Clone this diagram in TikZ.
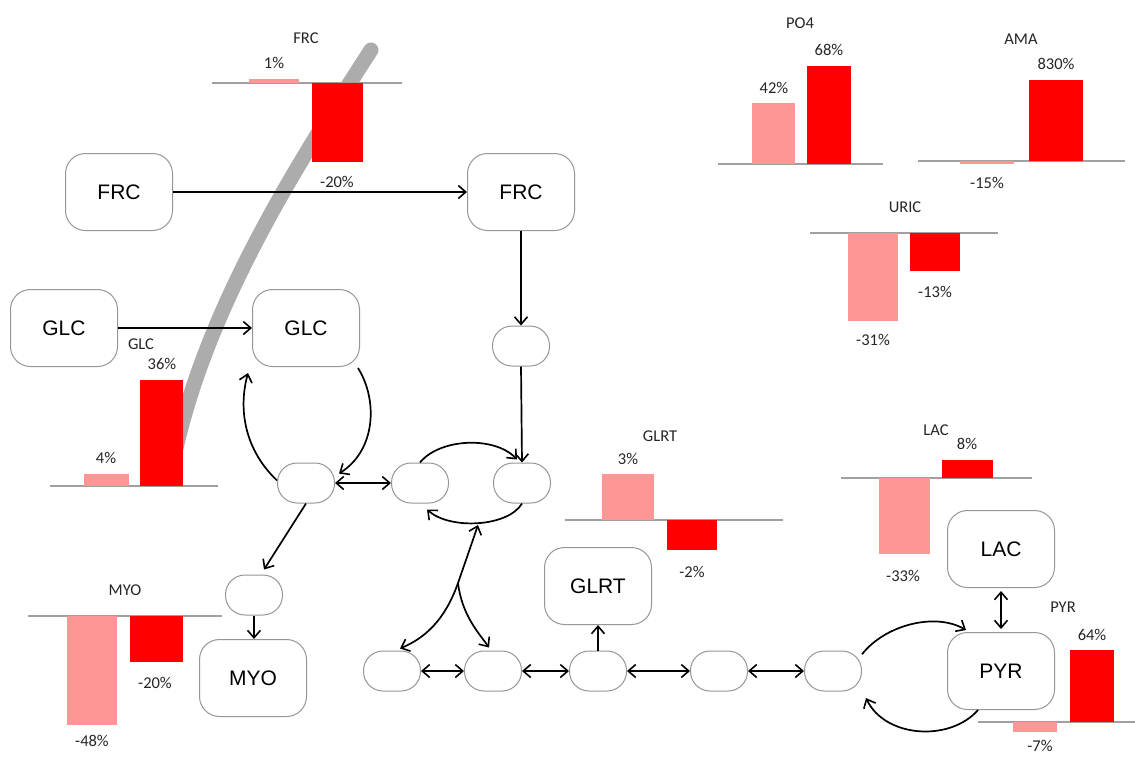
\documentclass[tikz,border=0pt]{standalone}
\usepackage{fontspec}
\setmainfont{Carlito}
\newfontfamily\boxfont{Liberation Sans}
\usetikzlibrary{arrows.meta}

\definecolor{pale}{RGB}{255,150,150}
\definecolor{vivid}{RGB}{255,0,0}
\definecolor{axisgray}{RGB}{160,160,160}
\definecolor{bandgray}{RGB}{172,172,172}
\definecolor{edgegray}{RGB}{150,150,150}

\tikzset{
  bigbox/.style={draw=edgegray, line width=1pt, rounded corners=20pt,
    minimum width=107pt, minimum height=77pt, font=\boxfont\fontsize{21}{24}\selectfont},
  pill/.style={draw=edgegray, line width=1pt, rounded corners=19.5pt,
    minimum width=57pt, minimum height=40pt},
  tip/.tip={Straight Barb[length=7.5pt,width=13pt,line width=1.6pt]},
  flow/.style={line width=1.7pt, -tip},
  dflow/.style={line width=1.7pt, tip-tip},
  axisline/.style={draw=axisgray, line width=1.5pt},
  lbl/.style={font=\fontsize{16.5}{18}\selectfont, text=black!85, inner sep=0pt},
}

\begin{document}
\begin{tikzpicture}[x=1pt,y=-1pt]
\useasboundingbox (0,0) rectangle (1135,756);
\fill[white] (0,0) rectangle (1135,756);

% thick grey guide band
\draw[bandgray, line width=15pt, line cap=round]
  (371,50) .. controls (300,160) and (210,300) .. (176,448);

% ---- bar charts: pale = first series, vivid = second series ----
% FRC
\draw[axisline] (212,83) -- (402,83);
\fill[pale] (249,79) rectangle (299,83);
\fill[vivid] (312,83) rectangle (363,162);
\node[lbl] (frcT) at (306,38) {FRC};
\node[lbl] (frcA) at (274,63) {1\%};
\node[lbl] (frcB) at (337,182) {-20\%};
% GLC
\draw[axisline] (50,486) -- (218,486);
\fill[pale] (84,474) rectangle (129,486);
\fill[vivid] (140,380) rectangle (183,486);
\node[lbl] (glcT) at (141,344) {GLC};
\node[lbl] (glcA) at (106,458) {4\%};
\node[lbl] (glcB) at (162,364) {36\%};
% MYO
\draw[axisline] (28,616) -- (222,616);
\fill[pale] (67,616) rectangle (117,725);
\fill[vivid] (130,616) rectangle (183,662);
\node[lbl] (myoT) at (125,590) {MYO};
\node[lbl] (myoA) at (92,741) {-48\%};
\node[lbl] (myoB) at (155,683) {-20\%};
% PO4
\draw[axisline] (718,164) -- (883,164);
\fill[pale] (752,103) rectangle (795,164);
\fill[vivid] (807,66) rectangle (851,164);
\node[lbl] (po4T) at (800,23) {PO4};
\node[lbl] (po4A) at (774,88) {42\%};
\node[lbl] (po4B) at (829,50) {68\%};
% AMA
\draw[axisline] (918,161) -- (1125,161);
\fill[pale] (960,161) rectangle (1014,163.5);
\fill[vivid] (1029,80) rectangle (1083,161);
\node[lbl] (amaT) at (1021,39) {AMA};
\node[lbl] (amaA) at (987,183) {-15\%};
\node[lbl] (amaB) at (1056,64) {830\%};
% URIC
\draw[axisline] (810,233) -- (998,233);
\fill[pale] (848,233) rectangle (898,321);
\fill[vivid] (910,233) rectangle (960,271);
\node[lbl] (uricT) at (905,207) {URIC};
\node[lbl] (uricA) at (873,340) {-31\%};
\node[lbl] (uricB) at (935,292) {-13\%};
% GLRT
\draw[axisline] (565,520) -- (783,520);
\fill[pale] (602,474) rectangle (654,520);
\fill[vivid] (667,520) rectangle (717,550);
\node[lbl] (glrtT) at (660,436) {GLRT};
\node[lbl] (glrtA) at (628,459) {3\%};
\node[lbl] (glrtB) at (692,572) {-2\%};
% LAC
\draw[axisline] (841,478) -- (1032,478);
\fill[pale] (879,478) rectangle (930,554);
\fill[vivid] (942,460) rectangle (993,478);
\node[lbl] (lacT) at (936,430) {LAC};
\node[lbl] (lacA) at (903,576) {-33\%};
\node[lbl] (lacB) at (967,444) {8\%};
% PYR
\draw[axisline] (978,722) -- (1135,722);
\fill[pale] (1013,722) rectangle (1057,732);
\fill[vivid] (1070,650) rectangle (1114,722);
\node[lbl] (pyrT) at (1063,607) {PYR};
\node[lbl] (pyrA) at (1040,746) {-7\%};
\node[lbl] (pyrB) at (1092,635) {64\%};

% ---- metabolite boxes ----
\node[bigbox] (frcL) at (119,192) {FRC};
\node[bigbox] (frcR) at (521,192) {FRC};
\node[bigbox] (glcL) at (64,328) {GLC};
\node[bigbox] (glcR) at (306,328) {GLC};
\node[bigbox] (glrt) at (598,586) {GLRT};
\node[bigbox] (lac) at (1001,549) {LAC};
\node[bigbox] (pyr) at (1001,671) {PYR};
\node[bigbox] (myo) at (253,678) {MYO};

% ---- unlabelled intermediates ----
\node[pill] (p1) at (521,346) {};
\node[pill] (b1) at (306,483) {};
\node[pill] (b2) at (420,483) {};
\node[pill] (b3) at (522,483) {};
\node[pill] (m1) at (254,595) {};
\node[pill] (e1) at (392,671) {};
\node[pill] (e2) at (493,671) {};
\node[pill] (e3) at (598,671) {};
\node[pill] (e4) at (719,671) {};
\node[pill] (e5) at (833,671) {};

% ---- connectors ----
\draw[flow] (frcL.east) -- (frcR.west);
\draw[flow] (glcL.east) -- (glcR.west);
\draw[flow] (frcR.south) -- (p1.north);
\draw[flow] (p1.south) -- (b3.north);

\draw[flow] ([xshift=-2pt,yshift=-1pt]glcR.south east)
  .. controls (378,400) and (376,450) .. ([xshift=4pt]b1.18);
\draw[flow] (b1.175)
  .. controls (245,450) and (238,410) .. ([xshift=-4pt,yshift=-6pt]glcR.south west);
\draw[dflow] (b1.east) -- (b2.west);

\draw[flow] (b2.north) .. controls (440,438) and (495,436) .. ([xshift=-5pt,yshift=3pt]b3.north);
\draw[flow] (b3.south) .. controls (508,527) and (450,530) .. ([xshift=7pt,yshift=-6pt]b2.south);

\coordinate (J) at (458,583);
\coordinate (jt) at (478,525);
\draw[flow] (J) .. controls (466,560) .. (jt);
\draw[flow] (J) .. controls (445,620) and (425,638) .. ([xshift=8pt,yshift=2pt]e1.north);
\draw[flow] (J) .. controls (462,615) and (478,632) .. ([xshift=-4pt,yshift=3pt]e2.north);

\draw[flow] (b1.south) -- ([xshift=10pt,yshift=5pt]m1.north);
\draw[flow] (m1.south) -- (m1.south |- myo.north);

\draw[dflow] (e1.east) -- (e2.west);
\draw[dflow] (e2.east) -- (e3.west);
\draw[dflow] (e3.east) -- (e4.west);
\draw[dflow] (e4.east) -- (e5.west);
\draw[flow] (e3.north) -- (glrt.south);

\draw[flow] (e5.30) .. controls (885,625) and (935,612) .. ([xshift=-35pt,yshift=2pt]pyr.north);
\draw[flow] ([xshift=-23pt]pyr.south) .. controls (950,742) and (885,738) .. ([xshift=4pt,yshift=-27pt]e5.east);
\draw[dflow] ([yshift=-3pt]lac.south) -- ([yshift=3pt]pyr.north);
\end{tikzpicture}
\end{document}
